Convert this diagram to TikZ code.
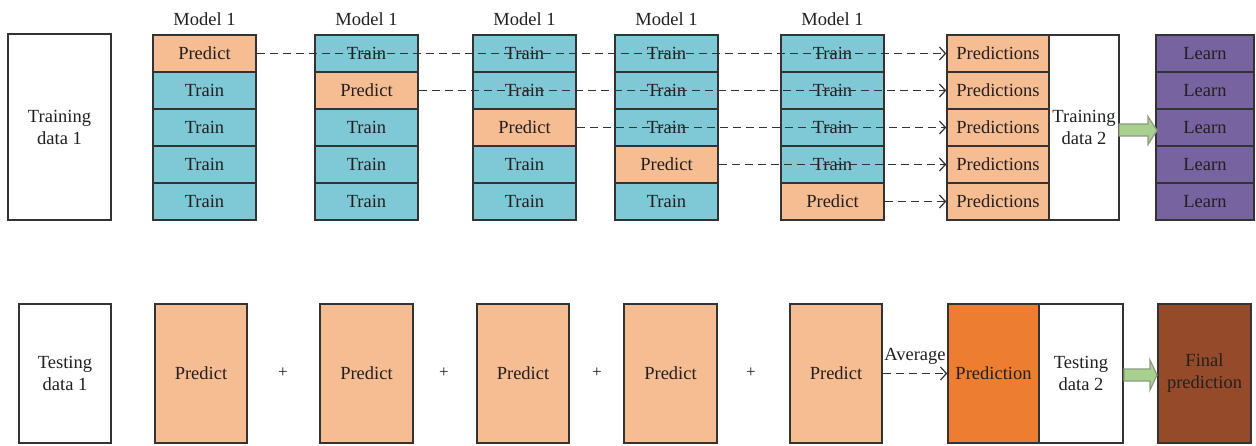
\documentclass[tikz,border=0pt]{standalone}
\usepackage{fontspec}
\setmainfont{Liberation Serif}
\usetikzlibrary{arrows.meta,calc}
\definecolor{cTrain}{HTML}{7FC8D6}
\definecolor{cPred}{HTML}{F7BD92}
\definecolor{cLearn}{HTML}{7763A0}
\definecolor{cOrange}{HTML}{ED7D31}
\definecolor{cBrown}{HTML}{954B2A}
\definecolor{cGreen}{HTML}{A9D08E}
\definecolor{cGreenLine}{HTML}{8C9A84}
\definecolor{cLine}{HTML}{333333}
\definecolor{cText}{HTML}{231F20}
\begin{document}
\begin{tikzpicture}[x=1pt,y=-1pt,
  box/.style={draw=cLine, line width=1.5pt, inner sep=0pt, text=cText,
    font=\fontsize{18.5}{22}\selectfont, align=center},
  trainbox/.style={box, fill=cTrain, minimum width=103, minimum height=37},
  predbox/.style={box, fill=cPred, minimum width=103, minimum height=37},
  learnbox/.style={box, fill=cLearn, minimum width=98, minimum height=37},
  lbl/.style={inner sep=0pt, text=cText, font=\fontsize{18.5}{22}\selectfont, align=center},
  dasharrow/.style={draw=cLine, line width=1.2pt, dash pattern=on 8pt off 5pt,
    -{Straight Barb[length=6pt,width=13pt,line width=1.2pt]}},
  garrow/.style={draw=cGreenLine, fill=cGreen, line width=1.2pt, line join=miter}
]
\useasboundingbox (0,0) rectangle (1256,446);
% ---------- top part ----------
\node[box, fill=white, minimum width=103, minimum height=186] (td1) at (59.5,127) {Training\\data 1};
\foreach \c/\x in {1/204.5,2/366.5,3/524.5,4/666.5,5/832.5} {
  \node[lbl] (m\c) at (\x,19) {Model 1};
  \foreach \r/\y in {1/53.5,2/90.5,3/127.5,4/164.5,5/201.5} {
    \ifnum\r=\c \def\st{predbox}\def\tx{Predict}\else\def\st{trainbox}\def\tx{Train}\fi
    \node[\st] (c\c r\r) at (\x,\y) {\tx};
  }
}
\foreach \r/\y in {1/53.5,2/90.5,3/127.5,4/164.5,5/201.5} {
  \node[predbox, minimum width=102] (p\r) at (998,\y) {Predictions};
  \node[learnbox] (l\r) at (1205,\y) {Learn};
}
\node[box, fill=white, minimum width=70, minimum height=185] (td2) at (1084,127.5) {Training\\data 2};
\foreach \r in {1,...,5} {
  \draw[dasharrow] (c\r r\r.east) -- (p\r.west);
}
\draw[garrow] (1119,124) -- (1148,124) -- (1148,116.5) -- (1157,130.5) -- (1148,144.5) -- (1148,136) -- (1119,136) -- cycle;
% ---------- bottom part ----------
\node[box, fill=white, minimum width=92, minimum height=139] (te1) at (65,373.5) {Testing\\data 1};
\foreach \i/\x/\w in {1/201/92,2/366.5/93,3/523/92,4/670.5/93,5/836/92} {
  \node[box, fill=cPred, minimum width=\w, minimum height=139] (b\i) at (\x,373.5) {Predict};
}
\foreach \i/\x in {1/283,2/444,3/597,4/751} {
  \node[lbl, font=\fontsize{17}{19}\selectfont] (plus\i) at (\x,373) {+};
}
\node[box, fill=cOrange, minimum width=91, minimum height=139] (pr) at (993.5,373.5) {Prediction};
\node[box, fill=white, minimum width=84, minimum height=139] (te2) at (1081,373.5) {Testing\\data 2};
\node[box, fill=cBrown, minimum width=93, minimum height=139] (fin) at (1204.5,373.5) {Final\\prediction};
\draw[dasharrow] (b5.east) -- node[lbl, above=8pt] (avg) {Average} (pr.west);
\draw[garrow] (1124,369) -- (1150,369) -- (1150,360) -- (1157,375) -- (1150,390) -- (1150,381) -- (1124,381) -- cycle;
\end{tikzpicture}
\end{document}
